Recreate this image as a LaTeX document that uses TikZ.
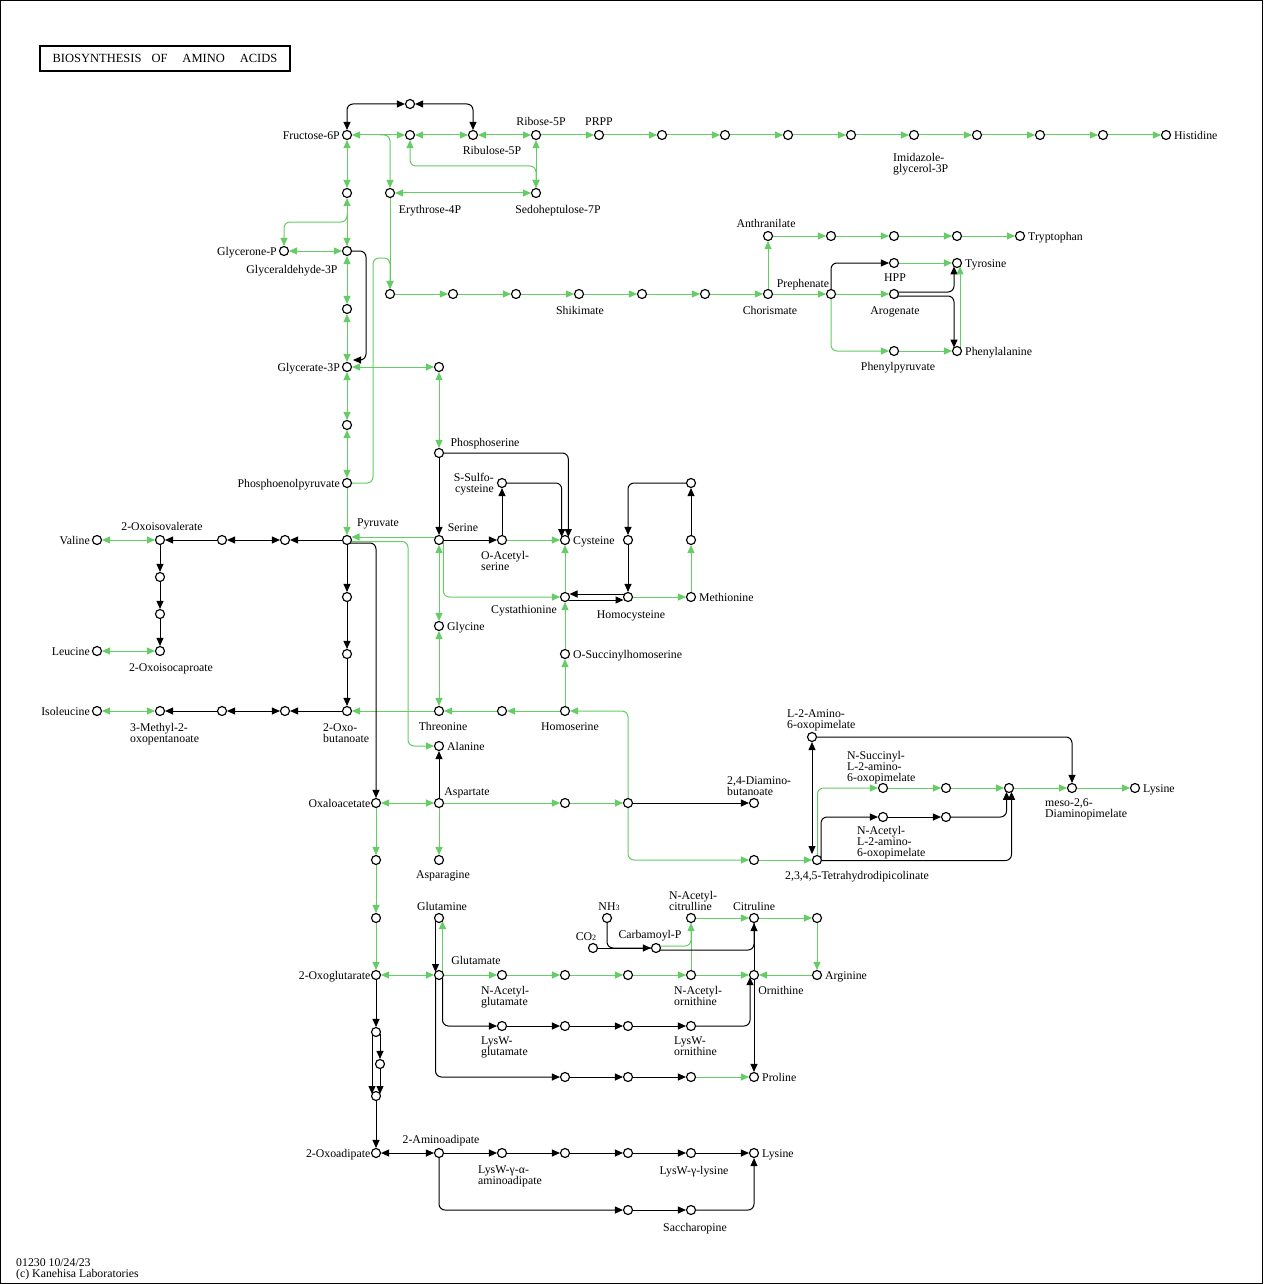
\documentclass[tikz,border=0pt]{standalone}
\usepackage{fontspec}
\setmainfont{Liberation Serif}
\usetikzlibrary{arrows.meta,calc}
\definecolor{kg}{RGB}{102,204,102}
\pgfdeclarelayer{background}
\pgfsetlayers{background,main}
\begin{document}
\begin{tikzpicture}[x=1pt,y=-1pt,
 >={Triangle[length=8pt,width=7pt]},
 cpd/.style={circle,draw=black,fill=white,line width=1.15pt,minimum size=9pt,inner sep=0pt},
 g/.style={draw=kg,line width=1pt},
 k/.style={draw=black,line width=1pt},
 rc/.style={rounded corners=6pt},
 lbl/.style={font=\fontsize{11.8}{11}\selectfont,inner sep=0pt},
 ml/.style={lbl,align=left,anchor=north west},
 cl/.style={lbl,anchor=base},
]
\useasboundingbox (0,0) rectangle (1263,1284);
\draw[line width=1pt] (0.5,0.5) rectangle (1262.5,1283.5);
\node[draw,line width=1.3pt,minimum width=250pt,minimum height=25pt,inner sep=0pt,font=\fontsize{12.5}{12}\selectfont] (title) at (165,58.5) {BIOSYNTHESIS\hspace{10pt}OF\hspace{15pt}AMINO\hspace{15pt}ACIDS};
\node[ml] (foot) at (16,1258) {01230 10/24/23\\(c) Kanehisa Laboratories};

\foreach \n/\x/\y in {F6P/347/135, Xtop/410/104, X410/410/135, Ru5P/473/135, R5P/536/135, PRPP/599/135, H1/662/135, H2/725/135, H3/788/135, H4/851/135, IGP/914/135, H6/977/135, H7/1040/135, H8/1103/135, His/1166/135,
S7P/536/193, E4P/390/193, G193/347/193, GAP/347/251, DHAP/284/251, G309/347/309, G3P/347/367, P439/439/367, G425/347/425, PEP/347/483, Pyr/347/540,
S1/390/294, S2/453/294, S3/516/294, Shik/579/294, S5/642/294, S6/705/294, Chor/768/294, Preph/831/294, Anth/768/236, T1/831/236, T2/894/236, T3/957/236, Trp/1020/236, HPP/894/263, Tyr/957/263, Arog/894/294, PhPyr/894/351, Phe/957/351,
PSer/439/453, Ser/439/540, SSC/502/483, OAS/502/540, Cys/565/540, M1/628/540, M2/691/483, M3/691/540, Cth/565/597, Hcy/628/597, Met/691/597, Gly/439/626, OSHS/565/654, Hser/565/711, HT/502/711, Thr/439/711, OBut/347/711, B1/347/597, B2/347/654, V1/285/540, V2/222/540, OIV/160/540, Val/97/540, L1/160/577, L2/160/614, OIC/160/651, Leu/97/651, I1/285/711, I2/222/711, MOP/160/711, Ile/97/711,
Ala/439/746, OAA/376/803, Asp/439/803, A1/565/803, A2/628/803, DAB/754/803, Asn/439/860, O1/376/860, O2/376/918, D1/754/860, THDP/817/860, LAOP/812/737, NSucc/883/788, D2/946/788, D3/1009/788, DAP/1072/788, LysA/1135/788, NAc/883/817, D4/946/817,
OG/376/975, Gln/439/918, Glu/439/975, NAG/502/975, R1/565/975, R2/628/975, NAO/691/975, Orn/754/975, Arg/817/975, R3/817/918, Cit/754/918, NAC/691/918, NH3/607/918, CO2/593/948, CP/656/948, LWG/502/1026, W1/565/1026, W2/628/1026, LWO/691/1026, P1/565/1077, P2/628/1077, P3/691/1077, Pro/754/1077, K1/376/1032, K2/380/1064, K3/376/1096, OAd/376/1153, AAd/439/1153, LWA/502/1153, K4/565/1153, K5/628/1153, LWL/691/1153, LysB/754/1153, K6/628/1210, Sacc/691/1210}
  \node[cpd] (\n) at (\x,\y) {};

% labels left
\foreach \n/\t in {F6P/Fructose-6P, DHAP/Glycerone-P, G3P/Glycerate-3P, PEP/Phosphoenolpyruvate, Val/Valine, Leu/Leucine, Ile/Isoleucine}
  \node[lbl,anchor=base east] (l\n) at ($(\n)+(-7,4.5)$) {\t};
\foreach \n/\t in {OAA/Oxaloacetate, OG/2-Oxoglutarate, OAd/2-Oxoadipate}
  \node[lbl,anchor=base east] (l\n) at ($(\n)+(-5.5,4.5)$) {\t};
% labels right
\foreach \n/\t in {His/Histidine, Trp/Tryptophan, Tyr/Tyrosine, Phe/Phenylalanine, Cys/Cysteine, Met/Methionine, Gly/Glycine, OSHS/O-Succinylhomoserine, Ala/Alanine, LysA/Lysine, Arg/Arginine, Pro/Proline, LysB/Lysine}
  \node[lbl,anchor=base west] (l\n) at ($(\n)+(8,4.5)$) {\t};
% centred labels
\node[cl] (lR5P) at (541,126) {Ribose-5P};
\node[cl] (lPRPP) at (599,126) {PRPP};
\node[cl] (lRu5P) at (492,155) {Ribulose-5P};
\node[cl] (lE4P) at (430,213) {Erythrose-4P};
\node[cl] (lS7P) at (558,213) {Sedoheptulose-7P};
\node[cl] (lGAP) at (292,273) {Glyceraldehyde-3P};
\node[cl] (lShik) at (580,314) {Shikimate};
\node[cl] (lChor) at (770,314) {Chorismate};
\node[cl] (lPreph) at (803,287) {Prephenate};
\node[cl] (lAnth) at (766,227) {Anthranilate};
\node[cl] (lHPP) at (895,281) {HPP};
\node[cl] (lArog) at (895,314) {Arogenate};
\node[cl] (lPhPyr) at (898,370) {Phenylpyruvate};
\node[cl] (lPSer) at (485,446) {Phosphoserine};
\node[cl] (lSer) at (463,531) {Serine};
\node[cl] (lPyr) at (378,526) {Pyruvate};
\node[cl] (lOIV) at (162,530) {2-Oxoisovalerate};
\node[cl] (lOIC) at (171,671) {2-Oxoisocaproate};
\node[cl] (lCth) at (524,613) {Cystathionine};
\node[cl] (lHcy) at (631,618) {Homocysteine};
\node[cl] (lHser) at (570,730) {Homoserine};
\node[cl] (lThr) at (443,730) {Threonine};
\node[cl] (lAsp) at (467,795) {Aspartate};
\node[cl] (lAsn) at (443,878) {Asparagine};
\node[cl] (lTHDP) at (857,879) {2,3,4,5-Tetrahydrodipicolinate};
\node[cl] (lGln) at (442,910) {Glutamine};
\node[cl] (lGlu) at (476,964) {Glutamate};
\node[cl] (lNH3) at (609,910) {NH{\fontsize{8}{8}\selectfont 3}};
\node[cl] (lCP) at (650,938) {Carbamoyl-P};
\node[cl] (lCO2) at (586,940) {CO{\fontsize{8}{8}\selectfont 2}};
\node[cl] (lCit) at (754,910) {Citruline};
\node[cl] (lOrn) at (781,994) {Ornithine};
\node[cl] (lAAd) at (441,1143) {2-Aminoadipate};
\node[cl] (lLWL) at (694,1174) {LysW-γ-lysine};
\node[cl] (lSacc) at (695,1231) {Saccharopine};
% multi-line labels
\node[ml] (lIGP) at (893,153) {Imidazole-\\glycerol-3P};
\node[lbl,align=right,anchor=north east] (lSSC) at (494,473) {S-Sulfo-\\cysteine};
\node[ml] (lOAS) at (481,551) {O-Acetyl-\\serine};
\node[ml] (lMOP) at (130,723) {3-Methyl-2-\\oxopentanoate};
\node[ml] (lOBut) at (323,723) {2-Oxo-\\butanoate};
\node[ml] (lDAB) at (727,776) {2,4-Diamino-\\butanoate};
\node[ml] (lLAOP) at (787,709) {L-2-Amino-\\6-oxopimelate};
\node[ml] (lNSucc) at (847,751) {N-Succinyl-\\L-2-amino-\\6-oxopimelate};
\node[ml] (lNAc) at (857,826) {N-Acetyl-\\L-2-amino-\\6-oxopimelate};
\node[ml] (lDAP) at (1045,798) {meso-2,6-\\Diaminopimelate};
\node[ml] (lNAC) at (669,891) {N-Acetyl-\\citrulline};
\node[ml] (lNAG) at (481,986) {N-Acetyl-\\glutamate};
\node[ml] (lNAO) at (674,986) {N-Acetyl-\\ornithine};
\node[ml] (lLWG) at (481,1037) {LysW-\\glutamate};
\node[ml] (lLWO) at (674,1037) {LysW-\\ornithine};
\node[ml] (lLWA) at (478,1166) {LysW-γ-α-\\aminoadipate};

\begin{pgfonlayer}{background}
% green reversible
\foreach \a/\b in {F6P/X410, X410/Ru5P, Ru5P/R5P, R5P/S7P, E4P/S7P, F6P/G193, G193/GAP, DHAP/GAP, GAP/G309, G309/G3P, G3P/G425, G425/PEP, G3P/P439, P439/PSer, Ser/Gly, Gly/Thr, OIV/Val, OIC/Leu, MOP/Ile, OAA/Asp, OG/Glu}
  \draw[g,<->] (\a) -- (\b);
% green irreversible
\foreach \a/\b in {R5P/PRPP, PRPP/H1, H1/H2, H2/H3, H3/H4, H4/IGP, IGP/H6, H6/H7, H7/H8, H8/His, E4P/S1, S1/S2, S2/S3, S3/Shik, Shik/S5, S5/S6, S6/Chor, Chor/Anth, Anth/T1, T1/T2, T2/T3, T3/Trp, Chor/Preph, Preph/Arog, HPP/Tyr, PhPyr/Phe, PEP/Pyr, OAS/Cys, Hcy/Met, Met/M3, Hser/OSHS, OSHS/Cth, Cth/Cys, Hser/HT, HT/Thr, Thr/OBut, Asp/A1, A1/A2, Asp/Asn, OAA/O1, O1/O2, O2/OG, D1/THDP, NSucc/D2, D2/D3, D3/DAP, DAP/LysA, Glu/NAG, NAG/R1, R1/R2, R2/NAO, NAO/Orn, NAO/NAC, NAC/Cit, Cit/R3, R3/Arg, Arg/Orn, P3/Pro}
  \draw[g,->] (\a) -- (\b);
% black irreversible
\foreach \a/\b in {PSer/Ser, Ser/OAS, OAS/SSC, M3/M2, M1/Hcy, Pyr/B1, B1/B2, B2/OBut, Pyr/V1, V2/OIV, OIV/L1, L1/L2, L2/OIC, OBut/I1, I2/MOP, Asp/Ala, A2/DAB, NAc/D4, Orn/Cit, Orn/Pro, CO2/CP, LWG/W1, W1/W2, W2/LWO, P1/P2, P2/P3, OG/K1, K3/OAd, AAd/LWA, LWA/K4, K4/K5, K5/LWL, LWL/LysB, K6/Sacc}
  \draw[k,->] (\a) -- (\b);
% black reversible
\foreach \a/\b in {V1/V2, I1/I2, OAd/AAd}
  \draw[k,<->] (\a) -- (\b);

% top
\draw[k,<->,rc] (F6P) |- (Xtop);
\draw[k,<->,rc] (Xtop) -| (Ru5P);
\draw[g,->,rc] ($(F6P)!0.52!(X410)$) -| (E4P);
\draw[g,<->,rc] (X410) -- ($(X410)+(0,31)$) -| (S7P);
\draw[g,->,rc] ($(G193)+(0,20)$) -- ($(G193)+(0,29)$) -| (DHAP);
\draw[k,->,rc] (GAP) -- ($(GAP)+(19,0)$) -- ($(G3P)+(19,-7)$) -- ($(G3P)+(6,-7)$);
\draw[g,->,rc=8pt] (PEP) -- ($(PEP)+(26,0)$) -- ($(S1)+(-17,-36)$) -- ($(S1)+(0,-36)$) -- (S1);
% serine / pyruvate
\draw[g,->] ($(Ser)+(-3.5,-3)$) -- ($(Pyr)+(4.5,-3)$);
\draw[g,->,rc] ($(Pyr)+(3.5,1.5)$) -- ($(Pyr)+(61,1.5)$) |- (Ala);
\draw[k,->,rc] ($(Pyr)+(3.5,3)$) -| (OAA);
\draw[k,->,rc] (PSer) -| ($(Cys)+(3.3,-3)$);
\draw[k,->,rc] (SSC) -| ($(Cys)+(-3.3,-3)$);
\draw[k,->,rc] (M2) -| (M1);
\draw[k,->] ($(Hcy)+(-3.5,-3)$) -- ($(Cth)+(4.5,-3)$);
\draw[k,->] ($(Cth)+(3.5,3)$) -- ($(Hcy)+(-4.5,3)$);
\draw[g,->,rc] ($(Ser)+(4.3,1.5)$) |- (Cth);
\draw[g,->,rc] (A2) |- (Hser);
\draw[g,->,rc] (A2) |- (D1);
% lysine (DAP)
\draw[k,<->] (LAOP) -- ($(THDP)+(-5,-6)$);
\draw[k,->,rc] (LAOP) -| (DAP);
\draw[g,->,rc] ($(THDP)+(0.5,-4.5)$) |- (NSucc);
\draw[k,->,rc] ($(THDP)+(4,-2)$) |- (NAc);
\draw[k,->,rc] (D4) -| ($(D3)+(-2.5,3.8)$);
\draw[k,->,rc] ($(THDP)+(4.5,0.5)$) -| ($(D3)+(2.5,3.8)$);
% aromatic
\draw[k,->,rc] (Preph) |- (HPP);
\draw[g,->,rc] (Preph) |- (PhPyr);
\draw[k,->,rc] ($(Arog)+(4.2,-2)$) -| ($(Tyr)+(-3,3.4)$);
\draw[k,->,rc] ($(Arog)+(4.2,2)$) -| ($(Phe)+(-3,-3.4)$);
\draw[g,->] ($(Phe)+(3,-3.4)$) -- ($(Tyr)+(3,3.4)$);
% glutamate family
\draw[k,->] ($(Gln)+(-3.5,3)$) -- ($(Glu)+(-3.5,-3)$);
\draw[g,->] ($(Glu)+(3.5,-3)$) -- ($(Gln)+(3.5,3)$);
\draw[k,->,rc] ($(Glu)+(3.5,3)$) |- (LWG);
\draw[k,->,rc] ($(Glu)+(-3.5,3)$) |- (P1);
\draw[k,->,rc] (LWO) -| ($(Orn)+(-4,2.2)$);
\draw[k,rc] (NH3) |- (CP);
\draw[g,rc] ($(CP)+(4,-2)$) -| (NAC);
\draw[k,rc] ($(CP)+(4,2)$) -| (Cit);
% lysine (AAA)
\draw[k,->] ($(K1)+(-4,2)$) -- ($(K3)+(-4,-2)$);
\draw[k,->] ($(K1)+(4,2)$) -- (K2);
\draw[k,->] (K2) -- ($(K3)+(4,-2)$);
\draw[k,->,rc] (AAd) |- (K6);
\draw[k,->,rc] (Sacc) -| (LysB);
\end{pgfonlayer}
\end{tikzpicture}
\end{document}
